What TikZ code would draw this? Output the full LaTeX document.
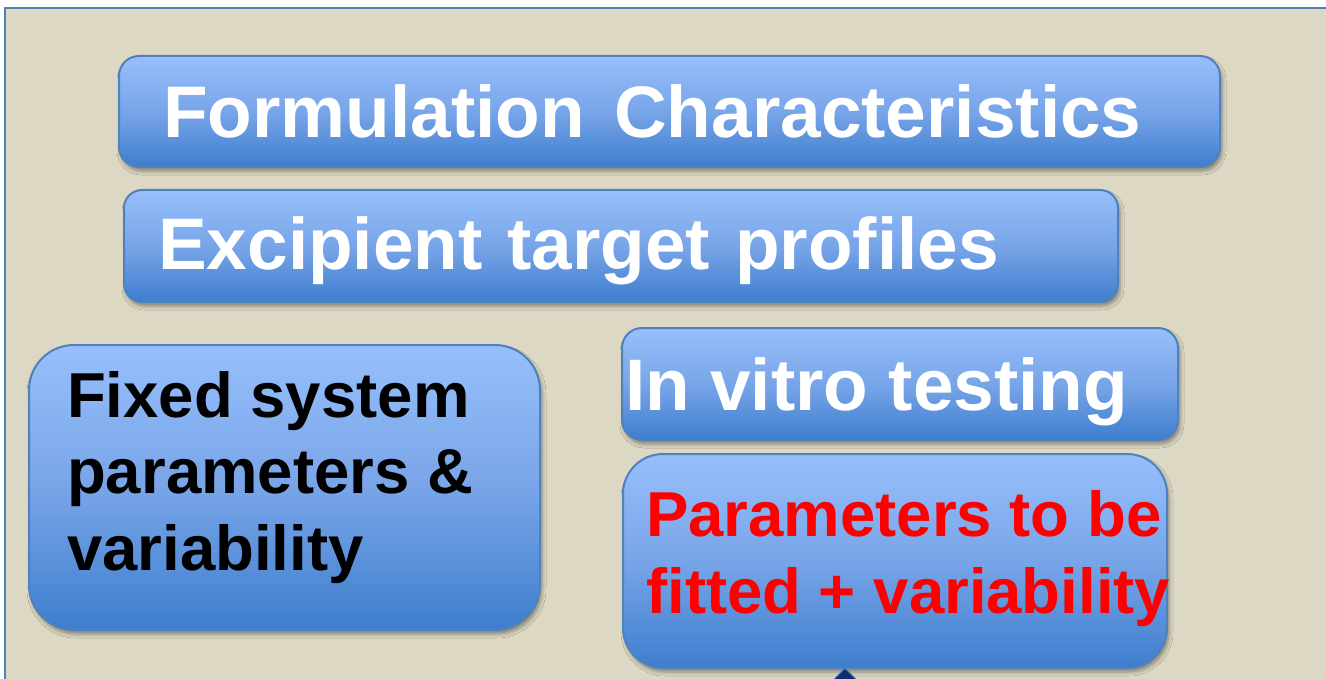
\documentclass[tikz,border=0pt]{standalone}
\usepackage{fontspec}
\setmainfont{Liberation Sans}
\usetikzlibrary{shadows.blur,shapes.geometric}
\definecolor{bgbeige}{HTML}{DDD8C3}
\definecolor{frameblue}{HTML}{4F81BD}
\definecolor{boxtop}{HTML}{97BFFB}
\definecolor{boxmid}{HTML}{78A5E8}
\definecolor{boxbot}{HTML}{3E7ECD}
\definecolor{navy}{HTML}{0E2D6C}
\tikzset{
  bluebox/.style={draw=frameblue, line width=2pt, rounded corners=#1,
    top color=boxtop, bottom color=boxbot, middle color=boxmid,
    blur shadow={shadow xshift=2pt, shadow yshift=-4pt, shadow blur radius=4pt, shadow opacity=40},
    inner sep=0pt},
  bigtext/.style={text=white, font=\fontsize{73}{76}\selectfont\bfseries, inner sep=0pt, anchor=base west},
  midtext/.style={font=\fontsize{63.5}{76.5}\selectfont\bfseries, inner sep=0pt, anchor=base west, align=left},
}
\begin{document}
\begin{tikzpicture}[x=1pt,y=-1pt]
\useasboundingbox (0,0) rectangle (1326,679);
\fill[white] (0,0) rectangle (1326,679);
\fill[bgbeige] (5,8) rectangle (1335,690);
\draw[frameblue, line width=2pt] (5,690) -- (5,8) -- (1335,8);

\node[bluebox=20pt, minimum width=1101pt, minimum height=111pt] (formbox) at (669.5,111.5) {};
\node[bluebox=18pt, minimum width=994pt, minimum height=112pt] (excbox) at (621,246) {};
\node[bluebox=45pt, minimum width=511pt, minimum height=285pt] (fixbox) at (284.5,487.5) {};
\node[bluebox=20pt, minimum width=556pt, minimum height=112pt] (vitrobox) at (900,384) {};
\node[bluebox=40pt, minimum width=544pt, minimum height=214pt] (parbox) at (895,561) {};

\node[diamond, fill=navy, draw=frameblue, line width=1pt, minimum size=50pt, inner sep=0pt] (tip) at (845,693) {};

\node[bigtext] (formtext) at (163,138) {Formulation\hspace{0.4em}Characteristics};
\node[bigtext] (exctext) at (158,270) {Excipient\hspace{0.34em}target\hspace{0.34em}profiles};
\node[bigtext] (vitrotext) at (625,410) {In vitro testing};
\node[midtext, text=black] (fixtext) at (67,570) {Fixed system\\parameters \&\\variability};
\node[midtext, text=red] (partext) at (646,613) {Parameters to be\\fitted + variability};
\end{tikzpicture}
\end{document}
